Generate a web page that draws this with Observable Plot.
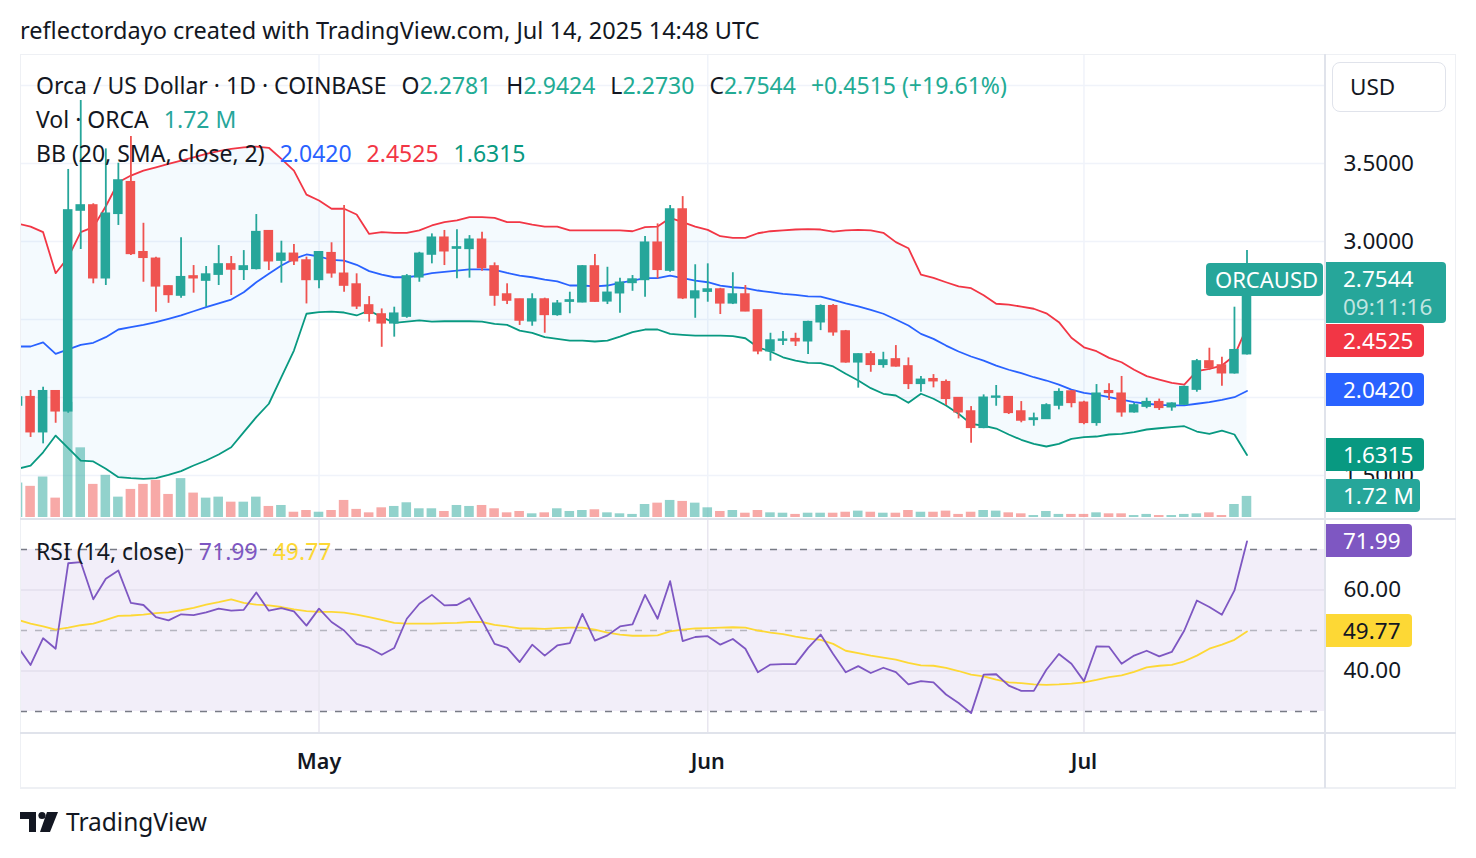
<!DOCTYPE html>
<html><head><meta charset="utf-8">
<script src="https://cdn.jsdelivr.net/npm/d3@7"></script>
<script src="https://cdn.jsdelivr.net/npm/@observablehq/plot@0.6"></script>
<style>
body{margin:0;background:#fff;font-family:"Noto Sans",sans-serif;color:#131722;}
#root{position:relative;width:1476px;height:858px;overflow:hidden;background:#fff;}
.layer{position:absolute;left:20px;}
.ln{position:absolute;background:#e0e3eb;}
.box{position:absolute;color:#fff;font-size:22.5px;height:33px;line-height:33px;padding-left:17px;box-sizing:border-box;border-radius:0 4px 4px 0;white-space:nowrap;}
.leg{position:absolute;left:36px;font-size:23px;line-height:34px;white-space:nowrap;}
.leg span.s{margin-left:15px;}
</style></head><body><div id="root"></div>
<script>
// ---- data (index 0 = 2025-04-07, last = 2025-07-14) ----
const startDate = "2025-04-07";
const endDate = "2025-07-14";
const open = [1.949,2.002,1.778,2.040,1.912,3.199,3.231,2.765,3.178,3.380,
2.931,2.889,2.712,2.654,2.776,2.750,2.788,2.853,2.819,2.825,
3.066,2.878,2.921,2.878,2.754,2.925,2.793,2.724,2.590,2.532,
2.476,2.519,2.771,2.917,3.024,2.955,2.953,3.011,2.840,2.660,
2.628,2.489,2.628,2.530,2.615,2.611,2.840,2.617,2.669,2.735,
2.754,2.992,2.814,3.205,2.637,2.679,2.692,2.604,2.660,2.558,
2.297,2.365,2.374,2.361,2.483,2.585,2.423,2.226,2.276,2.210,
2.244,2.199,2.088,2.117,2.098,1.996,1.910,1.806,2.000,2.002,
1.910,1.857,1.863,1.949,2.038,1.966,1.838,2.040,2.024,1.906,
1.942,1.970,1.938,1.955,2.051,2.231,2.205,2.156,2.2781];
const high = [2.032,2.045,2.066,2.045,3.462,3.904,3.242,3.594,3.502,3.673,
3.117,2.900,2.715,3.024,2.846,2.840,2.974,2.904,2.942,3.173,
3.070,3.002,2.981,2.900,2.936,2.992,3.231,2.793,2.647,2.568,
2.579,2.788,2.931,3.049,3.071,3.075,3.038,3.060,2.863,2.729,
2.630,2.665,2.637,2.622,2.675,2.846,2.917,2.835,2.765,2.782,
3.032,3.113,3.231,3.288,2.851,2.857,2.700,2.800,2.718,2.560,
2.412,2.423,2.412,2.489,2.594,2.596,2.430,2.280,2.295,2.290,
2.333,2.254,2.135,2.147,2.113,2.000,1.942,2.017,2.077,2.005,
1.974,1.900,1.960,2.056,2.045,1.976,2.083,2.088,2.135,1.963,
1.996,1.990,1.966,2.073,2.244,2.316,2.258,2.579,2.9424];
const low = [1.917,1.744,1.703,1.835,1.899,2.949,2.729,2.718,3.103,2.910,
2.739,2.547,2.604,2.637,2.669,2.579,2.718,2.654,2.750,2.818,
2.814,2.733,2.846,2.600,2.697,2.765,2.675,2.564,2.483,2.322,
2.387,2.508,2.739,2.857,2.846,2.761,2.765,2.810,2.585,2.596,
2.462,2.457,2.412,2.521,2.537,2.607,2.611,2.596,2.540,2.681,
2.643,2.761,2.803,2.628,2.508,2.611,2.532,2.596,2.550,2.274,
2.233,2.333,2.327,2.276,2.429,2.393,2.220,2.060,2.162,2.188,
2.195,2.051,2.034,2.062,1.949,1.863,1.707,1.800,1.944,1.891,
1.838,1.816,1.860,1.921,1.934,1.825,1.816,1.981,1.874,1.900,
1.928,1.917,1.912,1.950,2.034,2.173,2.072,2.150,2.2730];
const close = [2.000,1.778,2.040,1.912,3.199,3.231,2.765,3.178,3.391,2.921,
2.896,2.713,2.658,2.771,2.765,2.788,2.853,2.821,2.840,3.060,
2.874,2.921,2.874,2.754,2.931,2.797,2.718,2.585,2.537,2.476,
2.537,2.776,2.921,3.024,2.938,2.962,3.011,2.831,2.654,2.622,
2.494,2.628,2.530,2.601,2.622,2.840,2.615,2.671,2.735,2.756,
2.992,2.819,3.205,2.637,2.679,2.692,2.604,2.660,2.553,2.297,
2.365,2.370,2.361,2.483,2.585,2.419,2.226,2.276,2.210,2.237,
2.200,2.088,2.113,2.105,1.992,1.906,1.806,1.998,2.005,1.902,
1.853,1.865,1.949,2.034,1.966,1.838,2.024,2.030,1.906,1.949,
1.970,1.934,1.960,2.066,2.231,2.190,2.156,2.3029,2.7544];
const volumeM = [2.81,2.54,3.30,1.58,9.39,5.68,2.70,3.44,1.66,2.29,
2.70,3.03,1.88,3.17,1.99,1.58,1.66,1.25,1.25,1.66,
0.90,0.98,0.43,0.57,0.43,0.57,1.39,0.66,0.38,0.79,
0.90,1.20,0.71,0.71,0.49,0.98,0.90,0.98,0.71,0.38,
0.49,0.30,0.38,0.71,0.49,0.57,0.63,0.38,0.30,0.25,
1.06,1.17,1.39,1.31,1.17,0.79,0.49,0.57,0.35,0.57,
0.38,0.35,0.25,0.35,0.35,0.35,0.43,0.52,0.43,0.35,
0.35,0.57,0.43,0.43,0.52,0.25,0.43,0.57,0.52,0.38,
0.30,0.16,0.49,0.25,0.25,0.25,0.38,0.30,0.30,0.16,
0.25,0.16,0.16,0.25,0.30,0.38,0.16,1.06,1.72];
const bbUpper = [3.115,3.096,3.060,2.797,2.899,3.060,3.092,3.226,3.380,3.423,
3.455,3.476,3.498,3.519,3.540,3.562,3.579,3.594,3.604,3.609,
3.601,3.530,3.455,3.301,3.263,3.210,3.210,3.173,3.049,3.060,
3.056,3.056,3.071,3.103,3.124,3.135,3.156,3.156,3.152,3.124,
3.124,3.109,3.096,3.096,3.071,3.071,3.071,3.071,3.071,3.066,
3.092,3.096,3.151,3.125,3.096,3.075,3.034,3.024,3.024,3.053,
3.066,3.071,3.077,3.079,3.077,3.064,3.071,3.075,3.071,3.056,
2.996,2.957,2.788,2.767,2.739,2.712,2.701,2.656,2.601,2.596,
2.583,2.569,2.540,2.483,2.383,2.322,2.297,2.254,2.226,2.178,
2.137,2.115,2.094,2.083,2.169,2.184,2.205,2.269,2.4525];
const bbMid = [2.327,2.327,2.354,2.280,2.308,2.338,2.351,2.387,2.436,2.451,
2.466,2.483,2.504,2.526,2.553,2.579,2.604,2.628,2.675,2.739,
2.793,2.846,2.889,2.917,2.904,2.883,2.878,2.851,2.810,2.788,
2.771,2.771,2.782,2.797,2.806,2.814,2.822,2.822,2.819,2.799,
2.782,2.771,2.756,2.744,2.718,2.718,2.713,2.718,2.735,2.750,
2.765,2.765,2.782,2.765,2.750,2.739,2.718,2.707,2.701,2.686,
2.675,2.665,2.658,2.649,2.647,2.626,2.604,2.585,2.562,2.537,
2.500,2.462,2.408,2.376,2.333,2.295,2.263,2.237,2.205,2.178,
2.156,2.130,2.109,2.083,2.051,2.030,2.019,2.002,1.987,1.970,
1.960,1.953,1.949,1.949,1.960,1.970,1.985,2.002,2.0420];
const bbLower = [1.543,1.564,1.649,1.756,1.675,1.596,1.590,1.543,1.489,1.483,
1.479,1.483,1.504,1.528,1.564,1.596,1.635,1.681,1.778,1.874,
1.960,2.130,2.301,2.537,2.547,2.551,2.545,2.526,2.558,2.515,
2.479,2.487,2.494,2.487,2.489,2.489,2.489,2.487,2.472,2.466,
2.429,2.415,2.387,2.376,2.365,2.365,2.359,2.365,2.391,2.419,
2.436,2.436,2.408,2.402,2.397,2.397,2.397,2.393,2.380,2.322,
2.295,2.258,2.237,2.222,2.220,2.199,2.152,2.109,2.060,2.024,
2.013,1.966,2.024,1.992,1.949,1.896,1.831,1.819,1.801,1.763,
1.729,1.703,1.686,1.703,1.735,1.746,1.750,1.763,1.767,1.778,
1.795,1.803,1.810,1.816,1.782,1.767,1.788,1.763,1.6315];
const rsi = [45.9,41.5,48.1,45.5,66.6,66.9,57.7,62.8,64.8,56.8,
56.3,53.3,52.5,54.0,53.8,54.5,55.4,54.9,55.1,59.4,
54.9,55.5,54.7,51.2,55.4,52.1,50.0,46.7,45.7,44.0,
45.7,52.9,56.6,58.8,56.2,56.3,58.0,52.5,46.7,45.7,
42.2,46.5,43.8,46.3,46.9,54.1,47.5,48.8,51.0,51.5,
58.8,52.9,62.2,47.4,48.4,48.6,46.5,47.9,45.5,39.7,
41.6,41.7,41.7,45.7,49.0,44.2,39.7,41.2,39.5,40.8,
39.7,36.7,37.5,37.2,34.2,32.1,29.6,39.1,39.2,36.4,
35.1,35.1,40.3,44.2,41.8,37.5,46.1,46.0,41.8,43.8,
45.0,43.6,44.7,50.0,57.4,55.8,53.9,59.9,71.99];
const rsiMa = [52.6,51.7,51.0,50.2,50.7,51.3,51.7,52.6,53.6,53.7,
53.9,54.3,54.5,55.0,55.6,56.4,57.0,57.7,56.8,56.4,
56.2,55.8,55.2,54.8,54.6,54.6,54.4,53.9,53.3,52.6,
51.9,51.7,51.7,51.7,51.8,51.9,52.1,52.1,51.4,51.0,
50.5,50.5,50.4,50.6,50.7,50.7,50.2,49.5,49.0,48.7,
48.7,48.8,49.8,50.2,50.5,50.6,50.7,50.8,50.7,50.0,
49.5,49.1,48.5,48.0,47.7,46.7,45.0,44.4,43.8,43.3,
42.8,42.0,41.4,41.3,40.8,40.0,39.1,38.7,37.9,37.2,
37.0,36.7,36.6,36.7,36.9,37.2,37.8,38.5,38.9,39.8,
40.9,41.3,41.5,42.4,43.8,45.5,46.5,47.7,49.77];
const priceGrid = [1.5, 2.0, 2.5, 3.0, 3.5, 4.0];
const priceTickLabels = [1.5, 3.0, 3.5];
const rsiTicks = [40, 60];
const rsiLevels = [30, 50, 70];
const monthTicks = ["2025-05-01", "2025-06-01", "2025-07-01"];
const monthLabels = ["May", "Jun", "Jul"];

// ---- build ----
const DAY = 864e5;
const t0 = new Date(startDate + "T00:00:00Z");
const dates = d3.utcDay.range(t0, d3.utcDay.offset(new Date(endDate + "T00:00:00Z"), 1));
const bars = dates.map((date, i) => ({
  date, open: open[i], high: high[i], low: low[i], close: close[i], vol: volumeM[i],
  up: bbUpper[i], mid: bbMid[i], lo: bbLower[i], rsi: rsi[i], ma: rsiMa[i],
  rise: close[i] >= open[i]
}));
const ups = bars.filter(d => d.rise), downs = bars.filter(d => !d.rise);
const months = monthTicks.map(s => new Date(s + "T00:00:00Z"));
const xDomain = [new Date(+t0 + 0.196 * DAY), new Date(+t0 + 104.26 * DAY)];
const GREEN = "#26a69a", RED = "#ef5350";
const FONT = '"Noto Sans", sans-serif';
const W = 1436, MR = 131;
const baseStyle = {fontFamily: FONT, fontSize: "22.5px", color: "#131722", background: "transparent", overflow: "visible"};
const bx1 = d => new Date(+d.date - DAY / 2), bx2 = d => new Date(+d.date + DAY / 2);
const root = document.getElementById("root");
function place(el, top) { el.classList.add("layer"); el.style.top = top + "px"; root.appendChild(el); }

const priceY = {domain: [1.218, 4.199]};
// layer A: grid, band fill, price axis
place(Plot.plot({
  width: W, height: 465, marginLeft: 0, marginRight: MR, marginTop: 0, marginBottom: 0,
  style: baseStyle, x: {type: "utc", domain: xDomain, axis: null}, y: priceY,
  marks: [
    Plot.ruleY(priceGrid, {stroke: "#f0f3fa", strokeWidth: 1.5}),
    Plot.ruleX(months, {stroke: "#f0f3fa", strokeWidth: 1.5}),
    Plot.areaY(bars, {x: "date", y1: "lo", y2: "up", fill: "#2196f3", fillOpacity: 0.05, clip: true}),
    Plot.axisY({anchor: "right", ticks: priceTickLabels, tickSize: 0, tickPadding: 18, fontSize: 22.5, tickFormat: d => d.toFixed(4), label: null})
  ]
}), 54);
// layer B: volume
place(Plot.plot({
  width: W, height: 465, marginLeft: 0, marginRight: MR, marginTop: 0, marginBottom: 2,
  style: baseStyle, x: {type: "utc", domain: xDomain, axis: null}, y: {domain: [0, 37.76], axis: null},
  marks: [
    Plot.rectY(ups, {x1: bx1, x2: bx2, y: "vol", fill: GREEN, fillOpacity: 0.5, insetLeft: 1.5, insetRight: 1.5, clip: true}),
    Plot.rectY(downs, {x1: bx1, x2: bx2, y: "vol", fill: RED, fillOpacity: 0.5, insetLeft: 1.5, insetRight: 1.5, clip: true})
  ]
}), 54);
// layer C: BB lines + candles
place(Plot.plot({
  width: W, height: 465, marginLeft: 0, marginRight: MR, marginTop: 0, marginBottom: 0,
  style: baseStyle, x: {type: "utc", domain: xDomain, axis: null}, y: {...priceY, axis: null},
  marks: [
    Plot.line(bars, {x: "date", y: "up", stroke: "#f23645", strokeWidth: 1.8, clip: true}),
    Plot.line(bars, {x: "date", y: "mid", stroke: "#2962ff", strokeWidth: 1.8, clip: true}),
    Plot.line(bars, {x: "date", y: "lo", stroke: "#089981", strokeWidth: 1.8, clip: true}),
    Plot.ruleX(ups, {x: "date", y1: "low", y2: "high", stroke: GREEN, strokeWidth: 1.8, clip: true}),
    Plot.ruleX(downs, {x: "date", y1: "low", y2: "high", stroke: RED, strokeWidth: 1.8, clip: true}),
    Plot.rect(ups, {x1: bx1, x2: bx2, y1: "open", y2: "close", fill: GREEN, insetLeft: 1.5, insetRight: 1.5, insetTop: -0.8, insetBottom: -0.8, clip: true}),
    Plot.rect(downs, {x1: bx1, x2: bx2, y1: "open", y2: "close", fill: RED, insetLeft: 1.5, insetRight: 1.5, insetTop: -0.8, insetBottom: -0.8, clip: true})
  ]
}), 54);
// RSI pane + time axis
const band = [{a: xDomain[0], b: xDomain[1], lo: rsiLevels[0], hi: rsiLevels[2]}];
place(Plot.plot({
  width: W, height: 268, marginLeft: 0, marginRight: MR, marginTop: 0, marginBottom: 55,
  style: baseStyle, x: {type: "utc", domain: xDomain}, y: {domain: [24.57, 77.16]},
  marks: [
    Plot.rect(band, {x1: "a", x2: "b", y1: "lo", y2: "hi", fill: "#7e57c2", fillOpacity: 0.1}),
    Plot.ruleY(rsiTicks, {stroke: "#e3dfec", strokeWidth: 1.5}),
    Plot.ruleX(months, {stroke: "#e8e6ef", strokeWidth: 1.5}),
    Plot.ruleY([rsiLevels[0], rsiLevels[2]], {stroke: "#787b86", strokeWidth: 1.5, strokeDasharray: "7,8"}),
    Plot.ruleY([rsiLevels[1]], {stroke: "#787b86", strokeOpacity: 0.5, strokeWidth: 1.5, strokeDasharray: "7,8"}),
    Plot.line(bars, {x: "date", y: "ma", stroke: "#fdd835", strokeWidth: 1.8, clip: true}),
    Plot.line(bars, {x: "date", y: "rsi", stroke: "#7e57c2", strokeWidth: 1.8, clip: true}),
    Plot.axisY({anchor: "right", ticks: rsiTicks, tickSize: 0, tickPadding: 18, fontSize: 22.5, tickFormat: d => d.toFixed(2), label: null}),
    Plot.axisX(months, {tickSize: 0, tickPadding: 20, fontSize: 21.5, fontWeight: 600, tickFormat: (d, i) => monthLabels[i], label: null})
  ]
}), 520);

// frame lines
function ln(l, t, w, h, c) { const d = document.createElement("div"); d.className = "ln"; Object.assign(d.style, {left: l + "px", top: t + "px", width: w + "px", height: h + "px"}); if (c) d.style.background = c; root.appendChild(d); }
ln(20, 54, 1436, 1, "#eef0f4"); ln(20, 787, 1436, 2, "#eef0f4");
ln(20, 54, 1, 734, "#eef0f4"); ln(1455, 54, 1, 734, "#eef0f4");
ln(20, 518, 1436, 2); ln(20, 732, 1436, 2); ln(1324, 54, 2, 734);

// labels & legends
function html(s) { const d = document.createElement("div"); d.innerHTML = s; while (d.firstChild) root.appendChild(d.firstChild); }
const last = bars[bars.length - 1];
const fmt4 = d => d.toFixed(4);
html(`<div style="position:absolute;left:20px;top:13px;font-size:23.5px;line-height:34px;white-space:nowrap">reflectordayo created with TradingView.com, Jul 14, 2025 14:48 UTC</div>`);
html(`<div class="leg" style="top:68px">Orca / US Dollar · 1D · COINBASE<span class="s">O</span><span style="color:#22ab94">${fmt4(last.open)}</span><span class="s">H</span><span style="color:#22ab94">${fmt4(last.high)}</span><span class="s">L</span><span style="color:#22ab94">${fmt4(last.low)}</span><span class="s">C</span><span style="color:#22ab94">${fmt4(last.close)}</span><span class="s" style="color:#22ab94">+0.4515 (+19.61%)</span></div>`);
html(`<div class="leg" style="top:102px">Vol · ORCA<span class="s" style="color:#26a69a">${last.vol.toFixed(2)} M</span></div>`);
html(`<div class="leg" style="top:136px">BB (20, SMA, close, 2)<span class="s" style="color:#2962ff">${fmt4(last.mid)}</span><span class="s" style="color:#f23645">${fmt4(last.up)}</span><span class="s" style="color:#089981">${fmt4(last.lo)}</span></div>`);
html(`<div class="leg" style="top:534px">RSI (14, close)<span class="s" style="color:#7e57c2">${last.rsi.toFixed(2)}</span><span class="s" style="color:#fdd835">${last.ma.toFixed(2)}</span></div>`);
html(`<div style="position:absolute;left:1332px;top:62px;width:114px;height:50px;box-sizing:border-box;border:1px solid #e0e3eb;border-radius:8px;background:#fff;font-size:22.5px;line-height:48px;padding-left:17px">USD</div>`);
html(`<div class="box" style="left:1206px;top:263px;width:117px;background:${GREEN};border-radius:4px;padding-left:9px;font-size:22px">ORCAUSD</div>`);
html(`<div class="box" style="left:1326px;top:262px;width:120px;height:61px;line-height:28px;padding-top:3px;background:${GREEN}">${fmt4(last.close)}<br><span style="color:rgba(255,255,255,0.72)">09:11:16</span></div>`);
html(`<div class="box" style="left:1326px;top:324px;width:98px;background:#f23645">${fmt4(last.up)}</div>`);
html(`<div class="box" style="left:1326px;top:373px;width:98px;background:#2962ff">${fmt4(last.mid)}</div>`);
html(`<div class="box" style="left:1326px;top:438px;width:98px;background:#089981">${fmt4(last.lo)}</div>`);
html(`<div class="box" style="left:1326px;top:479px;width:94px;background:${GREEN}">${last.vol.toFixed(2)} M</div>`);
html(`<div class="box" style="left:1326px;top:524px;width:86px;background:#7e57c2">${last.rsi.toFixed(2)}</div>`);
html(`<div class="box" style="left:1326px;top:614px;width:86px;background:#fdd835;color:#131722">${last.ma.toFixed(2)}</div>`);
html(`<svg style="position:absolute;left:20px;top:810px" width="40" height="24"><path d="M0 2H16V22H9V9H0Z" fill="#131722"/><circle cx="22" cy="5.5" r="3.6" fill="#131722"/><path d="M27 2H38L30 22H20Z" fill="#131722"/></svg>`);
html(`<div style="position:absolute;left:66px;top:806px;font-size:24.5px;line-height:32px;color:#131722">TradingView</div>`);
</script></body></html>
